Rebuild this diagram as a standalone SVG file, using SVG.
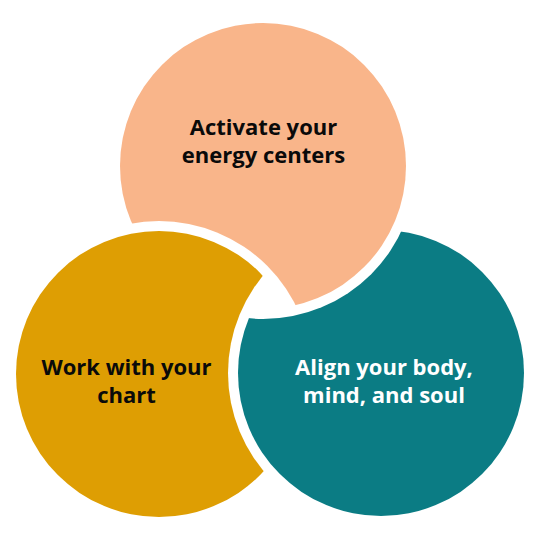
<svg xmlns="http://www.w3.org/2000/svg" width="540" height="540" viewBox="0 0 540 540">
<style>
.lbl{font-family:"Open Sans","Liberation Sans",sans-serif;font-weight:700;font-size:22px;text-anchor:middle}
.dark{fill:#0a0a0a}
.light{fill:#ffffff}
</style>
<defs>
<mask id="cutGold" maskUnits="userSpaceOnUse" x="0" y="0" width="540" height="540">
<rect x="0" y="0" width="540" height="540" fill="#fff"/>
<circle cx="159" cy="374" r="153" fill="#000"/>
</mask>
<mask id="cutTeal" maskUnits="userSpaceOnUse" x="0" y="0" width="540" height="540">
<rect x="0" y="0" width="540" height="540" fill="#fff"/>
<circle cx="381" cy="373" r="153" fill="#000"/>
</mask>
<mask id="cutPeach" maskUnits="userSpaceOnUse" x="0" y="0" width="540" height="540">
<rect x="0" y="0" width="540" height="540" fill="#fff"/>
<circle cx="263" cy="166" r="153" fill="#000"/>
</mask>
</defs>
<rect width="540" height="540" fill="#ffffff"/>
<g id="node-energy">
<circle cx="263" cy="166" r="143" fill="#F9B58A" mask="url(#cutGold)"/>
<text class="lbl dark" x="263.5" y="135">Activate your</text>
<text class="lbl dark" x="263.5" y="163">energy centers</text>
</g>
<g id="node-chart">
<circle cx="159" cy="374" r="143" fill="#DE9E03" mask="url(#cutTeal)"/>
<text class="lbl dark" x="126.5" y="375">Work with your</text>
<text class="lbl dark" x="126.5" y="403">chart</text>
</g>
<g id="node-align">
<circle cx="381" cy="373" r="143" fill="#0B7C84" mask="url(#cutPeach)"/>
<text class="lbl light" x="384" y="375">Align your body,</text>
<text class="lbl light" x="384" y="403">mind, and soul</text>
</g>
<g id="connectors"></g>
</svg>
